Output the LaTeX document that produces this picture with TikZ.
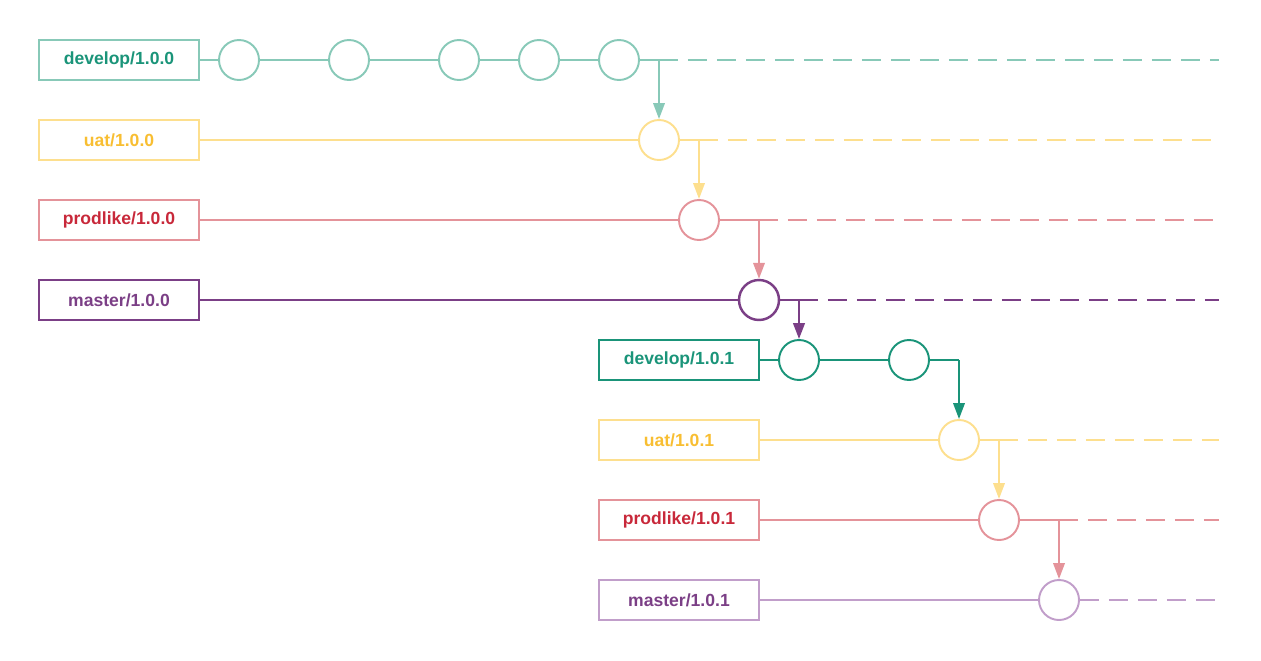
\documentclass[tikz,border=0pt]{standalone}
\usepackage{fontspec}
\setmainfont{Liberation Sans}
\usepackage{xcolor}
\usetikzlibrary{arrows.meta}
\definecolor{devlight}{HTML}{88C9B8}
\definecolor{devdark}{HTML}{1A9479}
\definecolor{uatline}{HTML}{FDDF8E}
\definecolor{uattext}{HTML}{F8BE32}
\definecolor{prodline}{HTML}{E4939A}
\definecolor{prodtext}{HTML}{C8283A}
\definecolor{mastdark}{HTML}{7B3F86}
\definecolor{mastlight}{HTML}{C19ECA}
\tikzset{
  branchbox/.style={draw=#1,line width=1.1pt,minimum width=3.2cm,minimum height=0.8cm,
    inner sep=0pt,font=\fontsize{10}{12}\selectfont\bfseries},
  commit/.style={draw=#1,circle,line width=1.1pt,minimum size=0.8cm,inner sep=0pt},
  track/.style={draw=#1,line width=1.1pt},
  future/.style={draw=#1,line width=1.1pt,dash pattern=on 11pt off 5.5pt},
  merge/.style={draw=#1,line width=1.1pt,-{Triangle[length=9pt,width=6.5pt,fill=#1]}},
}

\begin{document}
\begin{tikzpicture}[x=0.02cm,y=-0.02cm]
  \useasboundingbox (0,0) rectangle (1261,660);
  % release 1.0.0
  \node[branchbox=devlight,text=devdark] (dev0) at (119,60) {develop/1.0.0};
  \node[branchbox=uatline,text=uattext] (uat0) at (119,140) {uat/1.0.0};
  \node[branchbox=prodline,text=prodtext] (prod0) at (119,220) {prodlike/1.0.0};
  \node[branchbox=mastdark,text=mastdark] (mast0) at (119,300) {master/1.0.0};
  \foreach \name/\x in {a/239,b/349,c/459,d/539,e/619}
    \node[commit=devlight] (dev0\name) at (\x,60) {};
  \node[commit=uatline] (uat0c) at (659,140) {};
  \node[commit=prodline] (prod0c) at (699,220) {};
  \node[commit=mastdark,line width=1.4pt] (mast0c) at (759,300) {};
  \coordinate (dev0j) at (659,60);
  \coordinate (uat0j) at (699,140);
  \coordinate (prod0j) at (759,220);
  \coordinate (mast0j) at (799,300);
  \draw[track=devlight] (dev0) -- (dev0a) -- (dev0b) -- (dev0c) -- (dev0d) -- (dev0e) -- (dev0j);
  \draw[track=uatline] (uat0) -- (uat0c) -- (uat0j);
  \draw[track=prodline] (prod0) -- (prod0c) -- (prod0j);
  \draw[track=mastdark,line width=1.4pt] (mast0) -- (mast0c) -- (mast0j);
  \coordinate (dev0end) at (1219,60);
  \coordinate (uat0end) at (1219,140);
  \coordinate (prod0end) at (1219,220);
  \coordinate (mast0end) at (1219,300);
  \draw[future=devlight] (dev0j) -- (dev0end);
  \draw[future=uatline] (uat0j) -- (uat0end);
  \draw[future=prodline] (prod0j) -- (prod0end);
  \draw[future=mastdark,line width=1.4pt] (mast0j) -- (mast0end);
  \draw[merge=devlight] (dev0j) -- (uat0c.north);
  \draw[merge=uatline] (uat0j) -- (prod0c.north);
  \draw[merge=prodline] (prod0j) -- (mast0c.north);
  % release 1.0.1
  \node[branchbox=devdark,text=devdark] (dev1) at (679,360) {develop/1.0.1};
  \node[branchbox=uatline,text=uattext] (uat1) at (679,440) {uat/1.0.1};
  \node[branchbox=prodline,text=prodtext] (prod1) at (679,520) {prodlike/1.0.1};
  \node[branchbox=mastlight,text=mastdark] (mast1) at (679,600) {master/1.0.1};
  \node[commit=devdark] (dev1a) at (799,360) {};
  \node[commit=devdark] (dev1b) at (909,360) {};
  \node[commit=uatline] (uat1c) at (959,440) {};
  \node[commit=prodline] (prod1c) at (999,520) {};
  \node[commit=mastlight] (mast1c) at (1059,600) {};
  \coordinate (dev1j) at (959,360);
  \coordinate (uat1j) at (999,440);
  \coordinate (prod1j) at (1059,520);
  \draw[merge=mastdark,line width=1.4pt] (mast0j) -- (dev1a.north);
  \draw[track=devdark] (dev1) -- (dev1a) -- (dev1b) -- (dev1j);
  \draw[track=uatline] (uat1) -- (uat1c) -- (uat1j);
  \draw[track=prodline] (prod1) -- (prod1c) -- (prod1j);
  \draw[track=mastlight] (mast1) -- (mast1c);
  \coordinate (uat1end) at (1219,440);
  \coordinate (prod1end) at (1219,520);
  \coordinate (mast1end) at (1219,600);
  \draw[future=uatline] (uat1j) -- (uat1end);
  \draw[future=prodline] (prod1j) -- (prod1end);
  \draw[future=mastlight] (mast1c) -- (mast1end);
  \draw[merge=devdark] (dev1j) -- (uat1c.north);
  \draw[merge=uatline] (uat1j) -- (prod1c.north);
  \draw[merge=prodline] (prod1j) -- (mast1c.north);
\end{tikzpicture}
\end{document}
